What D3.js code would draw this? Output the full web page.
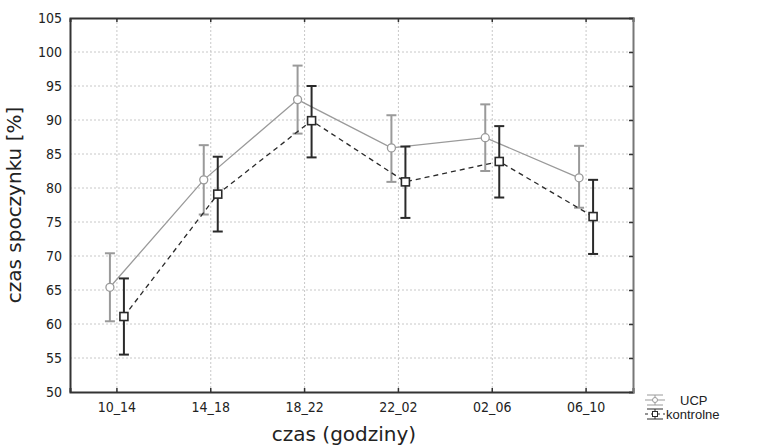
<!DOCTYPE html>
<html>
<head>
<meta charset="utf-8">
<script src="https://cdn.jsdelivr.net/npm/d3@7"></script>
<style>
  body { margin: 0; background: #fff; }
  svg { font-family: "DejaVu Sans", sans-serif; }
</style>
</head>
<body>
<svg id="chart"></svg>
<script>
const categories = ["10_14", "14_18", "18_22", "22_02", "02_06", "06_10"];
const ucpMean = [65.4, 81.2, 93.0, 85.9, 87.4, 81.5];
const ucpLow = [60.4, 76.1, 88.0, 80.9, 82.5, 77.1];
const ucpHigh = [70.4, 86.3, 98.0, 90.7, 92.3, 86.2];
const kontMean = [61.1, 79.1, 89.9, 80.9, 83.9, 75.8];
const kontLow = [55.5, 73.6, 84.5, 75.6, 78.6, 70.3];
const kontHigh = [66.7, 84.6, 95.0, 86.1, 89.1, 81.2];
const yTicks = [50, 55, 60, 65, 70, 75, 80, 85, 90, 95, 100, 105];

const width = 757, height = 448;
const margin = { top: 18, right: 124, bottom: 56, left: 70 };

const svg = d3.select("#chart").attr("width", width).attr("height", height);

const x = d3.scaleBand()
  .domain(categories)
  .range([margin.left, width - margin.right]);
const y = d3.scaleLinear()
  .domain([50, 105])
  .range([height - margin.bottom, margin.top]);
const cx = (c) => x(c) + x.bandwidth() / 2;

// grid
svg.append("g")
  .selectAll("line")
  .data(yTicks.slice(1, -1))
  .join("line")
  .attr("x1", margin.left).attr("x2", width - margin.right)
  .attr("y1", (d) => y(d)).attr("y2", (d) => y(d))
  .attr("stroke", "#c8c8c8").attr("stroke-dasharray", "2,2");
svg.append("g")
  .selectAll("line")
  .data(categories)
  .join("line")
  .attr("x1", cx).attr("x2", cx)
  .attr("y1", margin.top).attr("y2", height - margin.bottom)
  .attr("stroke", "#c8c8c8").attr("stroke-dasharray", "2,2");

// axes
svg.append("g")
  .attr("transform", `translate(0, ${height - margin.bottom})`)
  .call(d3.axisBottom(x).tickSize(-4).tickPadding(10));
svg.append("g")
  .attr("transform", `translate(${margin.left}, 0)`)
  .call(d3.axisLeft(y).tickValues(yTicks).tickSize(0).tickPadding(8));
svg.append("g")
  .attr("transform", `translate(0, ${margin.top})`)
  .call(d3.axisTop(x).tickSize(-4).tickFormat(""));
const right = svg.append("g")
  .attr("transform", `translate(${width - margin.right}, 0)`)
  .call(d3.axisRight(y).tickValues(yTicks).tickSize(-4).tickFormat(""));

svg.selectAll(".domain").attr("stroke", "#333").attr("stroke-width", 2);
right.select(".domain").attr("stroke", "#777");
svg.selectAll(".tick line").attr("stroke", "#333").attr("stroke-width", 1.5);
svg.selectAll(".tick text")
  .attr("fill", "#222")
  .style("font-family", "'DejaVu Sans Condensed', 'Liberation Sans', sans-serif")
  .style("font-size", "14px");

// axis titles
svg.append("text")
  .attr("x", 344).attr("y", height - 7)
  .attr("text-anchor", "middle")
  .style("font-size", "20px").attr("fill", "#222")
  .text("czas (godziny)");
svg.append("text")
  .attr("transform", `translate(21, ${(margin.top + height - margin.bottom) / 2}) rotate(-90)`)
  .attr("text-anchor", "middle")
  .style("font-size", "20px").attr("fill", "#222")
  .text("czas spoczynku [%]");

const series = [
  { name: "UCP", mean: ucpMean, low: ucpLow, high: ucpHigh, dx: -7, color: "#9a9a9a", dash: null, shape: "circle" },
  { name: "kontrolne", mean: kontMean, low: kontLow, high: kontHigh, dx: 7, color: "#2a2a2a", dash: "5,4", shape: "square" },
];

series.forEach((s) => {
  const pts = categories.map((c, i) => ({ c, m: s.mean[i], lo: s.low[i], hi: s.high[i] }));
  const g = svg.append("g");
  g.append("path")
    .datum(pts)
    .attr("fill", "none")
    .attr("stroke", s.color)
    .attr("stroke-width", 1.3)
    .attr("stroke-dasharray", s.dash)
    .attr("d", d3.line().x((d) => cx(d.c) + s.dx).y((d) => y(d.m)));
  const eb = g.selectAll(".eb").data(pts).join("g");
  eb.append("line")
    .attr("x1", (d) => cx(d.c) + s.dx).attr("x2", (d) => cx(d.c) + s.dx)
    .attr("y1", (d) => y(d.lo)).attr("y2", (d) => y(d.hi))
    .attr("stroke", s.color).attr("stroke-width", 2);
  ["lo", "hi"].forEach((k) => {
    eb.append("line")
      .attr("x1", (d) => cx(d.c) + s.dx - 5).attr("x2", (d) => cx(d.c) + s.dx + 5)
      .attr("y1", (d) => y(d[k])).attr("y2", (d) => y(d[k]))
      .attr("stroke", s.color).attr("stroke-width", 2);
  });
  if (s.shape === "circle") {
    eb.append("circle")
      .attr("cx", (d) => cx(d.c) + s.dx).attr("cy", (d) => y(d.m))
      .attr("r", 4).attr("fill", "#fff")
      .attr("stroke", s.color).attr("stroke-width", 1.3);
  } else {
    eb.append("rect")
      .attr("x", (d) => cx(d.c) + s.dx - 4).attr("y", (d) => y(d.m) - 4)
      .attr("width", 8).attr("height", 8).attr("fill", "#fff")
      .attr("stroke", s.color).attr("stroke-width", 1.6);
  }
});

// legend
const leg = svg.append("g").attr("transform", "translate(645, 0)");
series.forEach((s, i) => {
  const ly = 400 + i * 14;
  const lg = leg.append("g");
  lg.append("line").attr("x1", 0).attr("x2", 20).attr("y1", ly).attr("y2", ly)
    .attr("stroke", s.color).attr("stroke-width", 1).attr("stroke-dasharray", s.dash ? "3,3" : null);
  lg.append("line").attr("x1", 2).attr("x2", 18).attr("y1", ly - 5).attr("y2", ly - 5)
    .attr("stroke", s.color).attr("stroke-width", 1);
  lg.append("line").attr("x1", 2).attr("x2", 18).attr("y1", ly + 5).attr("y2", ly + 5)
    .attr("stroke", s.color).attr("stroke-width", 1);
  lg.append("line").attr("x1", 10).attr("x2", 10).attr("y1", ly - 5).attr("y2", ly + 5)
    .attr("stroke", s.color).attr("stroke-width", 1);
  if (s.shape === "circle") {
    lg.append("circle").attr("cx", 10).attr("cy", ly).attr("r", 2.5)
      .attr("fill", "#fff").attr("stroke", s.color);
  } else {
    lg.append("rect").attr("x", 7.5).attr("y", ly - 2.5).attr("width", 5).attr("height", 5)
      .attr("fill", "#fff").attr("stroke", s.color);
  }
  lg.append("text")
    .attr("x", i === 0 ? 35 : 21).attr("y", ly + 5)
    .style("font-family", "'Liberation Sans', Arial, sans-serif")
    .style("font-size", "13px").attr("fill", "#222")
    .text(s.name);
});
</script>
</body>
</html>
